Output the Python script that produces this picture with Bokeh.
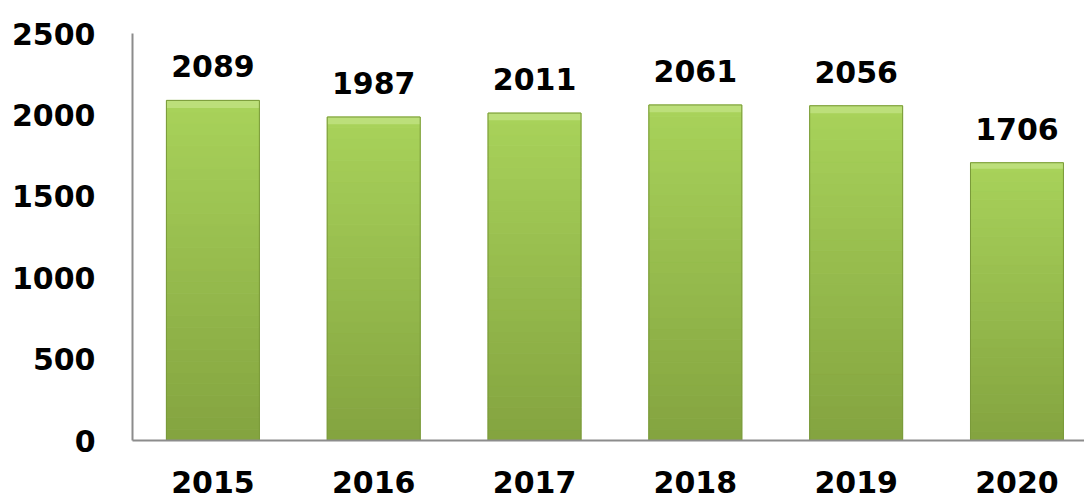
import numpy as np
from bokeh.plotting import figure
from bokeh.models import Range1d, FixedTicker
from bokeh.core.properties import value
from bokeh.embed import file_html
from bokeh.resources import INLINE

# ---- data ----
years = ["2015", "2016", "2017", "2018", "2019", "2020"]
counts = [2089, 1987, 2011, 2061, 2056, 1706]
y_ticks = [0, 500, 1000, 1500, 2000, 2500]

FONT = "DejaVu Sans"
FSIZE = "30px"
x_pos = np.arange(len(years)) + 0.5
BAR_W = 0.578

p = figure(width=1084, height=499,
           x_range=Range1d(0, 5.92), y_range=Range1d(0, 2500),
           output_backend="svg", toolbar_location=None,
           min_border_left=132, min_border_right=0,
           min_border_top=33, min_border_bottom=59)
p.background_fill_color = "white"
p.border_fill_color = "white"
p.outline_line_color = None
p.xgrid.visible = False
p.ygrid.visible = False

# x axis with category labels
xax = p.xaxis[0]
xax.ticker = FixedTicker(ticks=list(x_pos))
xax.major_label_overrides = {float(x): y for x, y in zip(x_pos, years)}
xax.axis_line_color = "#8c8c8c"
xax.axis_line_width = 2
xax.major_tick_line_color = None
xax.minor_tick_line_color = None
xax.major_tick_out = 0
xax.major_label_standoff = 30
xax.major_label_text_line_height = 0.7
xax.major_label_text_font = FONT
xax.major_label_text_font_style = "bold"
xax.major_label_text_font_size = FSIZE
xax.major_label_text_color = "black"

# y axis
yax = p.yaxis[0]
yax.ticker = FixedTicker(ticks=y_ticks)
yax.axis_line_color = "#8c8c8c"
yax.axis_line_width = 2
yax.major_tick_line_color = None
yax.minor_tick_line_color = None
yax.major_tick_out = 0
yax.major_label_standoff = 37
yax.major_label_text_font = FONT
yax.major_label_text_font_style = "bold"
yax.major_label_text_font_size = FSIZE
yax.major_label_text_color = "black"

# gradient bars (bottom darker -> top lighter)
c_bot = np.array([0x84, 0xa4, 0x40])
c_top = np.array([0xa9, 0xd3, 0x5b])
n = 30
vals = np.array(counts, dtype=float)
for k in range(n):
    f0, f1 = k / n, (k + 1) / n
    t = (k + 0.5) / n
    c = (c_bot + (c_top - c_bot) * t).astype(int)
    col = "#%02x%02x%02x" % tuple(c)
    p.vbar(x=x_pos, width=BAR_W, bottom=vals * f0, top=vals * f1,
           fill_color=col, line_color=col, line_width=1)

# top bevel highlight
p.vbar(x=x_pos, width=BAR_W, bottom=vals * 0.978, top=vals,
       fill_color="#bcdf7a", line_color=None)
# outline
p.vbar(x=x_pos, width=BAR_W, bottom=0, top=vals,
       fill_color=None, line_color="#7a9a3a", line_width=1)

# value labels
p.text(x=x_pos, y=vals, text=[str(c) for c in counts],
       text_align="center", text_baseline="alphabetic", y_offset=-34,
       text_font=value(FONT), text_font_style="bold", text_font_size=FSIZE,
       text_color="black")

open("out.html", "w").write(file_html(p, INLINE))
